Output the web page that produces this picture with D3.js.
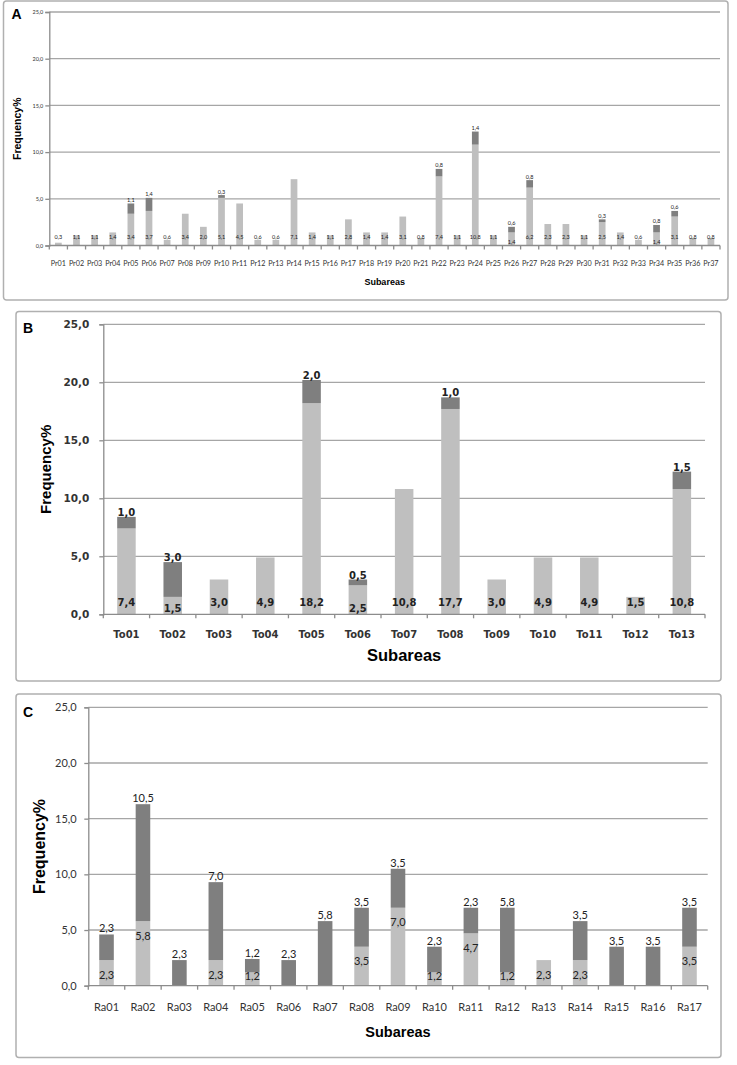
<!DOCTYPE html>
<html>
<head>
<meta charset="utf-8">
<script src="https://cdn.jsdelivr.net/npm/d3@7"></script>
<style>
  body { margin: 0; background: #fff; }
  svg { display: block; }
</style>
</head>
<body>
<div id="chart"></div>
<script>
// panel A
var catsA = ['Pr01','Pr02','Pr03','Pr04','Pr05','Pr06','Pr07','Pr08','Pr09','Pr10',
  'Pr11','Pr12','Pr13','Pr14','Pr15','Pr16','Pr17','Pr18','Pr19','Pr20',
  'Pr21','Pr22','Pr23','Pr24','Pr25','Pr26','Pr27','Pr28','Pr29','Pr30',
  'Pr31','Pr32','Pr33','Pr34','Pr35','Pr36','Pr37'];
var lightA = [0.3,1.1,1.1,1.4,3.4,3.7,0.6,3.4,2.0,5.1,4.5,0.6,0.6,7.1,1.4,1.1,2.8,1.4,1.4,3.1,
  0.8,7.4,1.1,10.8,1.1,1.4,6.2,2.3,2.3,1.1,2.5,1.4,0.6,1.4,3.1,0.8,0.8];
var darkA = [0,0,0,0,1.1,1.4,0,0,0,0.3,0,0,0,0,0,0,0,0,0,0,
  0,0.8,0,1.4,0,0.6,0.8,0,0,0,0.3,0,0,0.8,0.6,0,0];

// panel B
var catsB = ['To01','To02','To03','To04','To05','To06','To07','To08','To09','To10','To11','To12','To13'];
var lightB = [7.4,1.5,3.0,4.9,18.2,2.5,10.8,17.7,3.0,4.9,4.9,1.5,10.8];
var darkB = [1.0,3.0,0,0,2.0,0.5,0,1.0,0,0,0,0,1.5];

// panel C
var catsC = ['Ra01','Ra02','Ra03','Ra04','Ra05','Ra06','Ra07','Ra08','Ra09','Ra10',
  'Ra11','Ra12','Ra13','Ra14','Ra15','Ra16','Ra17'];
var lightC = [2.3,5.8,0,2.3,1.2,0,0,3.5,7.0,1.2,4.7,1.2,2.3,2.3,0,0,3.5];
var darkC = [2.3,10.5,2.3,7.0,1.2,2.3,5.8,3.5,3.5,2.3,2.3,5.8,0,3.5,3.5,3.5,3.5];

var yTicks = [0, 5, 10, 15, 20, 25];

var LIGHT = '#bfbfbf', DARK = '#7f7f7f', GRID = '#a6a6a6', AXIS = '#8c8c8c';

var comma = d3.formatLocale({decimal: ',', thousands: '.', grouping: [3], currency: ['', '']}).format('.1f');

var svg = d3.select('#chart').append('svg')
  .attr('width', 737)
  .attr('height', 1065);

var panels = [
  {letter: 'A', cats: catsA, light: lightA, dark: darkA,
    box: [3.5, 1, 724.5, 299], plot: {left: 49.3, right: 720, top: 12, bottom: 245.5},
    pad: 0.63, font: 'Lato', weight: 'normal', tickSize: 5.5, xTickSize: 7.2, labelSize: 5.5,
    yLabX: 17, xTitleY: 282, titleSize: 9, yTitleSize: 10.5, letterSize: 14, letterPos: [11.5, 19],
    tickOff: 6, xLabOff: 17.5, lightOff: 9, lowOff: 4, lowBelow: 2, darkOff: 1.5, mode: 'base'},
  {letter: 'B', cats: catsB, light: lightB, dark: darkB,
    box: [16, 311.5, 705, 369.5], plot: {left: 103.3, right: 705, top: 324.3, bottom: 614.3},
    pad: 0.6, font: 'DejaVu Sans', weight: 'bold', tickSize: 10.5, xTickSize: 10, labelSize: 10,
    yLabX: 45, xTitleY: 655, titleSize: 16.5, yTitleSize: 15, letterSize: 14, letterPos: [23, 333],
    tickOff: 14, xLabOff: 20, lightOff: 12, lowOff: 6, lowBelow: 3, darkOff: 1, mode: 'base'},
  {letter: 'C', cats: catsC, light: lightC, dark: darkC,
    box: [16, 694, 705, 363.5], plot: {left: 88.3, right: 707.7, top: 707.3, bottom: 985.7},
    pad: 0.6, font: 'Lato', weight: 'normal', tickSize: 11, xTickSize: 11, labelSize: 11,
    yLabX: 39, xTitleY: 1032, titleSize: 14.5, yTitleSize: 16, letterSize: 14, letterPos: [23, 717],
    tickOff: 11.6, xLabOff: 21, darkOff: 2, mode: 'end'}
];

panels.forEach(drawPanel);

function drawPanel(p) {
  var g = svg.append('g');
  var pl = p.plot;

  // panel frame
  g.append('rect')
    .attr('x', p.box[0]).attr('y', p.box[1])
    .attr('width', p.box[2]).attr('height', p.box[3])
    .attr('rx', 3)
    .attr('fill', '#fff')
    .attr('stroke', '#b0b0b0')
    .attr('stroke-width', 1.5);

  g.append('text')
    .attr('x', p.letterPos[0]).attr('y', p.letterPos[1])
    .attr('font-family', 'Liberation Sans, Arial, sans-serif')
    .attr('font-weight', 'bold')
    .attr('font-size', p.letterSize)
    .text(p.letter);

  var x = d3.scaleBand()
    .domain(p.cats)
    .range([pl.left, pl.right])
    .paddingInner(p.pad)
    .paddingOuter(p.pad / 2);

  var y = d3.scaleLinear()
    .domain([0, 25])
    .range([pl.bottom, pl.top]);

  // gridlines
  g.append('g').selectAll('line')
    .data(yTicks.filter(function(d) { return d > 0; }))
    .enter().append('line')
    .attr('x1', pl.left).attr('x2', pl.right)
    .attr('y1', function(d) { return y(d); })
    .attr('y2', function(d) { return y(d); })
    .attr('stroke', GRID)
    .attr('stroke-width', 1.3);

  // y axis
  var yAxis = d3.axisLeft(y)
    .tickValues(yTicks)
    .tickSize(4)
    .tickPadding(p.tickOff - 4)
    .tickFormat(comma);
  var ya = g.append('g')
    .attr('transform', 'translate(' + pl.left + ',0)')
    .call(yAxis);
  ya.select('.domain').attr('stroke', AXIS).attr('stroke-width', 1.3);
  ya.selectAll('.tick line').attr('stroke', AXIS).attr('stroke-width', 1.3);
  ya.selectAll('.tick text')
    .attr('font-family', p.font)
    .attr('font-weight', p.weight)
    .attr('font-size', p.tickSize)
    .attr('fill', '#333');

  // bars
  var rows = p.cats.map(function(c, i) {
    return {cat: c, light: p.light[i], dark: p.dark[i]};
  });

  var bars = g.append('g').selectAll('g')
    .data(rows)
    .enter().append('g');

  bars.append('rect')
    .attr('x', function(d) { return x(d.cat); })
    .attr('width', x.bandwidth())
    .attr('y', function(d) { return y(d.light); })
    .attr('height', function(d) { return y(0) - y(d.light); })
    .attr('fill', LIGHT);

  bars.append('rect')
    .attr('x', function(d) { return x(d.cat); })
    .attr('width', x.bandwidth())
    .attr('y', function(d) { return y(d.light + d.dark); })
    .attr('height', function(d) { return y(d.light) - y(d.light + d.dark); })
    .attr('fill', DARK);

  // x axis line + ticks at category borders
  var xa = g.append('g');
  xa.append('line')
    .attr('x1', pl.left).attr('x2', pl.right)
    .attr('y1', y(0)).attr('y2', y(0))
    .attr('stroke', AXIS).attr('stroke-width', 1.3);
  xa.selectAll('.bt')
    .data(d3.range(p.cats.length + 1))
    .enter().append('line')
    .attr('x1', function(i) { return pl.left + i * x.step(); })
    .attr('x2', function(i) { return pl.left + i * x.step(); })
    .attr('y1', y(0)).attr('y2', y(0) + 4)
    .attr('stroke', AXIS).attr('stroke-width', 1.3);

  xa.selectAll('.xl')
    .data(p.cats)
    .enter().append('text')
    .attr('x', function(d) { return x(d) + x.bandwidth() / 2; })
    .attr('y', y(0) + p.xLabOff)
    .attr('text-anchor', 'middle')
    .attr('dominant-baseline', 'central')
    .attr('font-family', p.font)
    .attr('font-weight', p.weight)
    .attr('font-size', p.xTickSize)
    .attr('fill', '#333')
    .text(function(d) { return d; });

  // value labels
  var lab = g.append('g')
    .attr('font-family', p.font)
    .attr('font-weight', p.weight)
    .attr('font-size', p.labelSize)
    .attr('fill', '#222')
    .attr('text-anchor', 'middle');

  lab.selectAll('.ll')
    .data(rows.filter(function(d) { return d.light > 0; }))
    .enter().append('text')
    .attr('x', function(d) { return x(d.cat) + x.bandwidth() / 2; })
    .attr('y', function(d) {
      if (p.mode === 'end') return Math.min(y(d.light) + 14, y(0) - 10);
      var low = d.dark > 0 && d.light < p.lowBelow;
      return y(0) - (low ? p.lowOff : p.lightOff);
    })
    .attr('dominant-baseline', 'central')
    .text(function(d) { return comma(d.light); });

  lab.selectAll('.dl')
    .data(rows.filter(function(d) { return d.dark > 0; }))
    .enter().append('text')
    .attr('x', function(d) { return x(d.cat) + x.bandwidth() / 2; })
    .attr('y', function(d) { return y(d.light + d.dark) - p.darkOff; })
    .text(function(d) { return comma(d.dark); });

  // axis titles
  g.append('text')
    .attr('x', (pl.left + pl.right) / 2)
    .attr('y', p.xTitleY)
    .attr('text-anchor', 'middle')
    .attr('dominant-baseline', 'central')
    .attr('font-family', 'Liberation Sans, Arial, sans-serif')
    .attr('font-weight', 'bold')
    .attr('font-size', p.titleSize)
    .text('Subareas');

  g.append('text')
    .attr('transform', 'translate(' + p.yLabX + ',' + (pl.top + pl.bottom) / 2 + ') rotate(-90)')
    .attr('text-anchor', 'middle')
    .attr('dominant-baseline', 'central')
    .attr('font-family', 'Liberation Sans, Arial, sans-serif')
    .attr('font-weight', 'bold')
    .attr('font-size', p.yTitleSize)
    .text('Frequency%');
}
</script>
</body>
</html>
